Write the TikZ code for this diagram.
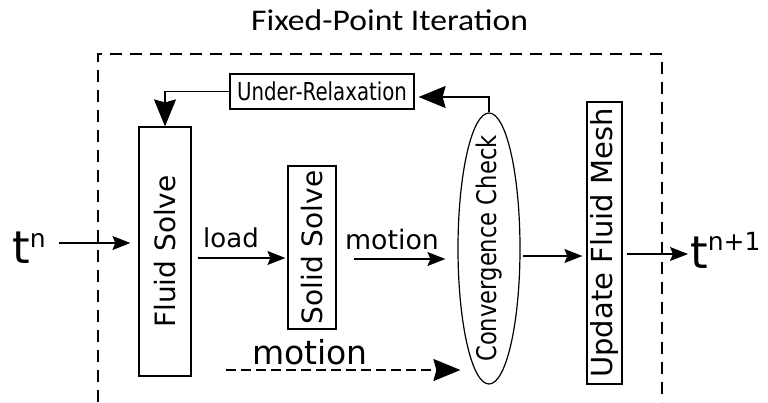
\documentclass[tikz,border=0pt]{standalone}
\usepackage{fontspec}
\setmainfont{DejaVu Sans}
\newfontfamily\titlefont[FakeStretch=1.12]{Carlito}
\newfontfamily\narrowfont[FakeStretch=0.8]{DejaVu Sans}
\newfontfamily\convfont[FakeStretch=0.84]{DejaVu Sans}
\usetikzlibrary{arrows.meta,shapes.geometric}
\newcommand\fs[1]{\fontsize{#1}{#1}\selectfont}

\begin{document}
\begin{tikzpicture}[x=1pt,y=-1pt,
  box/.style={draw,line width=1.2pt,inner sep=0pt},
  lbl/.style={inner sep=0pt,anchor=base},
  arr/.style={line width=1.2pt,-{Stealth[length=18pt,width=14pt,inset=3pt]}},
  bigarr/.style={line width=1.6pt,-{Stealth[length=27pt,width=22pt,inset=3pt]}},
]
\useasboundingbox (0,0) rectangle (768,402);

% outer dashed frame of the iteration loop
\draw[line width=1.6pt,dash pattern=on 12pt off 8pt] (98,402) -- (98,54) -- (662,54) -- (662,402);

\node[inner sep=0pt,anchor=base west] (title) at (251,30) {\titlefont\fs{30}Fixed-Point Iteration};

% blocks
\node[box,minimum width=184pt,minimum height=35pt] (under) at (322,91.5) {\narrowfont\fs{24.7}Under-Relaxation};
\node[box,minimum width=52pt,minimum height=249pt] (fluid) at (165,251.5) {\rotatebox{90}{\fs{28}Fluid Solve}};
\node[box,minimum width=48pt,minimum height=163pt] (solid) at (312,247.5) {\rotatebox{90}{\fs{28}Solid Solve}};
\node[box,ellipse,minimum width=62pt,minimum height=271pt] (conv) at (489,248.5)
  {\rotatebox{90}{\makebox[0pt]{\convfont\fs{27}Convergence Check}}};
\node[box,minimum width=35pt,minimum height=282pt] (update) at (604.5,243) {\rotatebox{90}{\fs{29}Update Fluid Mesh}};

% time levels
\node[inner sep=0pt,anchor=base west] (tn) at (12,263) {\fs{45}t\raisebox{16pt}{\fs{25}n}};
\node[inner sep=0pt,anchor=base west] (tnext) at (690,268) {\fs{45}t\raisebox{18pt}{\fs{25}n+1}};

% edge labels
\node[lbl] (load) at (231,247.7) {\fs{26}load};
\node[lbl] (mtop) at (392,249) {\fs{26.8}motion};
\node[lbl] (mlow) at (310,364) {\fs{33}motion};

% connectors
\draw[arr] ([xshift=13pt,yshift=20pt]tn.base east) -- ([xshift=-8pt,yshift=8.5pt]fluid.west);
\draw[arr] ([xshift=6pt,yshift=-6.5pt]fluid.east) -- ([xshift=-2pt,yshift=-10.5pt]solid.west);
\draw[arr] ([xshift=17pt,yshift=-11.5pt]solid.east) -- ([xshift=-12pt,yshift=-10.5pt]conv.west);
\draw[arr] ([xshift=2pt,yshift=-7.5pt]conv.east) -- ([xshift=-4pt,yshift=-13pt]update.west);
\draw[arr] ([xshift=4pt,yshift=-11pt]update.east) -- ([xshift=-2pt,yshift=14pt]tnext.base west);
\draw[bigarr] (under.west) -| (fluid.north);
\draw[bigarr,shorten >=4pt] (conv.north) |- ([yshift=-5.5pt]under.east);
\coordinate (dstart) at (226,370);
\draw[bigarr,dash pattern=on 10pt off 5pt] (dstart) -- ([xshift=3pt]dstart -| conv.west);
\end{tikzpicture}
\end{document}
